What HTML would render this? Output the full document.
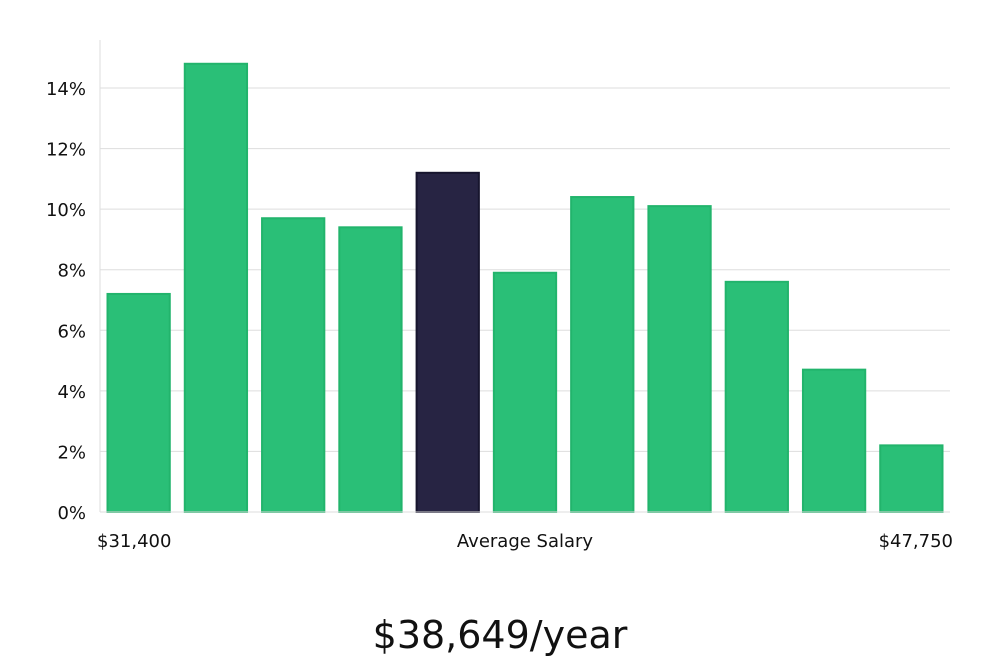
<!DOCTYPE html>
<html><head><meta charset="utf-8"><style>
body{margin:0;background:#fff;font-family:"Liberation Sans","DejaVu Sans",sans-serif;}
svg text{font-family:"DejaVu Sans","Liberation Sans",sans-serif;}
</style></head><body>
<svg id="chart" width="1000" height="660" viewBox="0 0 1000 660">
<g id="grid"></g><g id="bars"></g><g id="labels"></g>
<line x1="100" y1="40" x2="100" y2="512" stroke="#dddddd" stroke-width="1"/>
<line x1="100" y1="512" x2="950" y2="512" stroke="#dddddd" stroke-width="1"/>
<text x="97" y="547" font-size="18" fill="#111">$31,400</text>
<text x="525" y="547" font-size="18" fill="#111" text-anchor="middle">Average Salary</text>
<text x="953" y="547" font-size="18" fill="#111" text-anchor="end">$47,750</text>
<text x="500" y="648" font-size="38" fill="#111" text-anchor="middle" font-family="Liberation Sans Narrow, Liberation Sans, sans-serif">$38,649/year</text>
</svg>
<script>
const values=[7.2,14.8,9.7,9.4,11.2,7.9,10.4,10.1,7.6,4.7,2.2];
const highlightIndex=4;
const ticks=[0,2,4,6,8,10,12,14];
const tickLabels=["0%","2%","4%","6%","8%","10%","12%","14%"];
const NS="http://www.w3.org/2000/svg";
const x0=100,x1=950,y0=512,pxPer=(512-88)/14;
const slot=(x1-x0)/values.length;
const yS=v=>y0-v*pxPer;
const xS=i=>x0+i*slot;
const grid=document.getElementById('grid'),bars=document.getElementById('bars'),labels=document.getElementById('labels');
ticks.forEach((t,i)=>{
 if(t>0){const l=document.createElementNS(NS,'line');
 l.setAttribute('x1',x0);l.setAttribute('x2',x1);l.setAttribute('y1',yS(t));l.setAttribute('y2',yS(t));
 l.setAttribute('stroke','#dddddd');
 
 
 grid.appendChild(l);}
 const tx=document.createElementNS(NS,'text');
 tx.setAttribute('x',86);tx.setAttribute('y',yS(t)+7);tx.setAttribute('text-anchor','end');
 tx.setAttribute('font-size','18');tx.setAttribute('fill','#111');tx.textContent=tickLabels[i];
 
 
 labels.appendChild(tx);
});
values.forEach((v,i)=>{
 const r=document.createElementNS(NS,'rect');
 const w=slot-15;
 r.setAttribute('x',xS(i)+7.5);r.setAttribute('width',w);
 r.setAttribute('y',yS(v));r.setAttribute('height',y0-yS(v));
 const hi=i===highlightIndex;
 r.setAttribute('fill',hi?'#272443':'#2abf77');
 r.setAttribute('stroke',hi?'#17152e':'#22b46c');r.setAttribute('stroke-width','2');
 
 
 bars.appendChild(r);
});
</script>
</body></html>
